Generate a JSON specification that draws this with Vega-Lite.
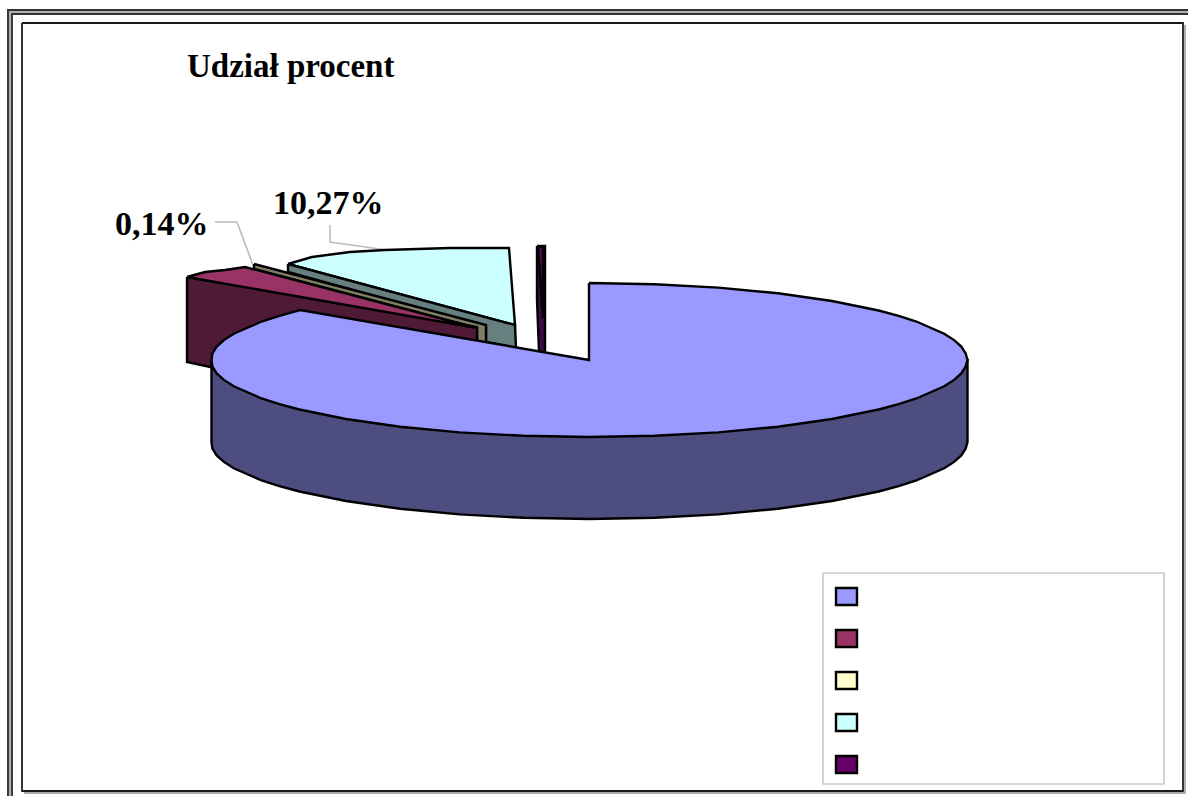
{
  "$schema": "https://vega.github.io/schema/vega-lite/v6.json",
  "width": 1188,
  "height": 796,
  "padding": 0,
  "autosize": {"type": "none"},
  "background": "#ffffff",
  "view": {"stroke": null},
  "datasets": {
    "rules": [
      {"part": "outerShadow", "i": 0, "x": 10, "y": 796}, {"part": "outerShadow", "i": 1, "x": 10, "y": 12}, {"part": "outerShadow", "i": 2, "x": 1188, "y": 12},
      {"part": "outerA", "i": 0, "x": 8, "y": 796}, {"part": "outerA", "i": 1, "x": 8, "y": 10}, {"part": "outerA", "i": 2, "x": 1188, "y": 10},
      {"part": "outerB", "i": 0, "x": 12, "y": 796}, {"part": "outerB", "i": 1, "x": 12, "y": 14}, {"part": "outerB", "i": 2, "x": 1188, "y": 14},
      {"part": "innerShadow", "i": 0, "x": 1185, "y": 25}, {"part": "innerShadow", "i": 1, "x": 1185, "y": 793}, {"part": "innerShadow", "i": 2, "x": 24, "y": 793},
      {"part": "inner", "i": 0, "x": 22, "y": 23}, {"part": "inner", "i": 1, "x": 1183, "y": 23}, {"part": "inner", "i": 2, "x": 1183, "y": 791}, {"part": "inner", "i": 3, "x": 22, "y": 791}, {"part": "inner", "i": 4, "x": 22, "y": 23},
      {"part": "legendBox", "i": 0, "x": 823, "y": 573}, {"part": "legendBox", "i": 1, "x": 1164, "y": 573}, {"part": "legendBox", "i": 2, "x": 1164, "y": 784}, {"part": "legendBox", "i": 3, "x": 823, "y": 784}, {"part": "legendBox", "i": 4, "x": 823, "y": 573},
      {"part": "leader014", "i": 0, "x": 215, "y": 222}, {"part": "leader014", "i": 1, "x": 237, "y": 222}, {"part": "leader014", "i": 2, "x": 253, "y": 265},
      {"part": "leader1027", "i": 0, "x": 330, "y": 225}, {"part": "leader1027", "i": 1, "x": 330, "y": 242}, {"part": "leader1027", "i": 2, "x": 387, "y": 250}
    ],
    "faces": [
      {"part": "cyanTop", "i": 0, "x": 288, "y": 264}, {"part": "cyanTop", "i": 1, "x": 312, "y": 257}, {"part": "cyanTop", "i": 2, "x": 350, "y": 252}, {"part": "cyanTop", "i": 3, "x": 385, "y": 250}, {"part": "cyanTop", "i": 4, "x": 450, "y": 248}, {"part": "cyanTop", "i": 5, "x": 509, "y": 248}, {"part": "cyanTop", "i": 6, "x": 515, "y": 325}, {"part": "cyanTop", "i": 7, "x": 288, "y": 264},
      {"part": "cyanSide", "i": 0, "x": 288, "y": 264}, {"part": "cyanSide", "i": 1, "x": 515, "y": 325}, {"part": "cyanSide", "i": 2, "x": 516, "y": 348}, {"part": "cyanSide", "i": 3, "x": 486, "y": 342}, {"part": "cyanSide", "i": 4, "x": 486, "y": 327}, {"part": "cyanSide", "i": 5, "x": 288, "y": 272}, {"part": "cyanSide", "i": 6, "x": 288, "y": 264},
      {"part": "creamSide", "i": 0, "x": 254, "y": 264}, {"part": "creamSide", "i": 1, "x": 486, "y": 325}, {"part": "creamSide", "i": 2, "x": 486, "y": 343}, {"part": "creamSide", "i": 3, "x": 477, "y": 341}, {"part": "creamSide", "i": 4, "x": 477, "y": 328}, {"part": "creamSide", "i": 5, "x": 254, "y": 269}, {"part": "creamSide", "i": 6, "x": 254, "y": 264},
      {"part": "redSide", "i": 0, "x": 187, "y": 277}, {"part": "redSide", "i": 1, "x": 187, "y": 362}, {"part": "redSide", "i": 2, "x": 215, "y": 368}, {"part": "redSide", "i": 3, "x": 477, "y": 341}, {"part": "redSide", "i": 4, "x": 477, "y": 327}, {"part": "redSide", "i": 5, "x": 187, "y": 277},
      {"part": "redTop", "i": 0, "x": 187, "y": 277}, {"part": "redTop", "i": 1, "x": 205, "y": 272}, {"part": "redTop", "i": 2, "x": 225, "y": 270}, {"part": "redTop", "i": 3, "x": 245, "y": 267}, {"part": "redTop", "i": 4, "x": 477, "y": 328}, {"part": "redTop", "i": 5, "x": 187, "y": 277},
      {"part": "purpleSide", "i": 0, "x": 537, "y": 246}, {"part": "purpleSide", "i": 1, "x": 545, "y": 246}, {"part": "purpleSide", "i": 2, "x": 545, "y": 352}, {"part": "purpleSide", "i": 3, "x": 539, "y": 352}, {"part": "purpleSide", "i": 4, "x": 537, "y": 300}, {"part": "purpleSide", "i": 5, "x": 537, "y": 246},
      {"part": "purpleTop", "i": 0, "x": 538, "y": 247}, {"part": "purpleTop", "i": 1, "x": 543, "y": 247}, {"part": "purpleTop", "i": 2, "x": 543, "y": 318}, {"part": "purpleTop", "i": 3, "x": 538, "y": 247},
      {"part": "blueSide", "i": 0, "x": 211.5, "y": 360}, {"part": "blueSide", "i": 1, "x": 211.5, "y": 442}, {"part": "blueSide", "i": 1.5, "x": 212.4, "y": 448.7}, {"part": "blueSide", "i": 2, "x": 216.7, "y": 455.4}, {"part": "blueSide", "i": 2.5, "x": 223.9, "y": 461.9}, {"part": "blueSide", "i": 3, "x": 233.8, "y": 468.3}, {"part": "blueSide", "i": 4, "x": 261.6, "y": 480.5}, {"part": "blueSide", "i": 4.5, "x": 279.4, "y": 486.2}, {"part": "blueSide", "i": 5, "x": 299.4, "y": 491.5}, {"part": "blueSide", "i": 6, "x": 346, "y": 501}, {"part": "blueSide", "i": 7, "x": 400, "y": 508.7}, {"part": "blueSide", "i": 8, "x": 459.7, "y": 514.4}, {"part": "blueSide", "i": 9, "x": 523.4, "y": 517.8}, {"part": "blueSide", "i": 10, "x": 589, "y": 519}, {"part": "blueSide", "i": 11, "x": 654.6, "y": 517.8}, {"part": "blueSide", "i": 12, "x": 718.3, "y": 514.4}, {"part": "blueSide", "i": 13, "x": 778, "y": 508.7}, {"part": "blueSide", "i": 14, "x": 832, "y": 501}, {"part": "blueSide", "i": 15, "x": 878.6, "y": 491.5}, {"part": "blueSide", "i": 15.5, "x": 898.6, "y": 486.2}, {"part": "blueSide", "i": 16, "x": 916.4, "y": 480.5}, {"part": "blueSide", "i": 17, "x": 944.2, "y": 468.3}, {"part": "blueSide", "i": 17.5, "x": 954.1, "y": 461.9}, {"part": "blueSide", "i": 18, "x": 961.3, "y": 455.4}, {"part": "blueSide", "i": 18.5, "x": 965.6, "y": 448.7}, {"part": "blueSide", "i": 19, "x": 967.5, "y": 442}, {"part": "blueSide", "i": 20, "x": 967.5, "y": 360}, {"part": "blueSide", "i": 21, "x": 211.5, "y": 360},
      {"part": "blueTop", "i": 0, "x": 589, "y": 283}, {"part": "blueTop", "i": 1, "x": 654.6, "y": 284.2}, {"part": "blueTop", "i": 2, "x": 718.3, "y": 287.6}, {"part": "blueTop", "i": 3, "x": 778, "y": 293.3}, {"part": "blueTop", "i": 4, "x": 832, "y": 301}, {"part": "blueTop", "i": 5, "x": 878.6, "y": 310.5}, {"part": "blueTop", "i": 5.5, "x": 898.6, "y": 315.8}, {"part": "blueTop", "i": 6, "x": 916.4, "y": 321.5}, {"part": "blueTop", "i": 7, "x": 944.2, "y": 333.7}, {"part": "blueTop", "i": 7.5, "x": 954.1, "y": 340.1}, {"part": "blueTop", "i": 8, "x": 961.3, "y": 346.6}, {"part": "blueTop", "i": 8.5, "x": 965.6, "y": 353.3}, {"part": "blueTop", "i": 9, "x": 967.5, "y": 360}, {"part": "blueTop", "i": 9.5, "x": 965.6, "y": 366.7}, {"part": "blueTop", "i": 10, "x": 961.3, "y": 373.4}, {"part": "blueTop", "i": 10.5, "x": 954.1, "y": 379.9}, {"part": "blueTop", "i": 11, "x": 944.2, "y": 386.3}, {"part": "blueTop", "i": 12, "x": 916.4, "y": 398.5}, {"part": "blueTop", "i": 12.5, "x": 898.6, "y": 404.2}, {"part": "blueTop", "i": 13, "x": 878.6, "y": 409.5}, {"part": "blueTop", "i": 14, "x": 832, "y": 419}, {"part": "blueTop", "i": 15, "x": 778, "y": 426.7}, {"part": "blueTop", "i": 16, "x": 718.3, "y": 432.4}, {"part": "blueTop", "i": 17, "x": 654.6, "y": 435.8}, {"part": "blueTop", "i": 18, "x": 589, "y": 437}, {"part": "blueTop", "i": 19, "x": 523.4, "y": 435.8}, {"part": "blueTop", "i": 20, "x": 459.7, "y": 432.4}, {"part": "blueTop", "i": 21, "x": 400, "y": 426.7}, {"part": "blueTop", "i": 22, "x": 346, "y": 419}, {"part": "blueTop", "i": 23, "x": 299.4, "y": 409.5}, {"part": "blueTop", "i": 23.5, "x": 279.4, "y": 404.2}, {"part": "blueTop", "i": 24, "x": 261.6, "y": 398.5}, {"part": "blueTop", "i": 25, "x": 233.8, "y": 386.3}, {"part": "blueTop", "i": 25.5, "x": 223.9, "y": 379.9}, {"part": "blueTop", "i": 26, "x": 216.7, "y": 373.4}, {"part": "blueTop", "i": 26.5, "x": 212.4, "y": 366.7}, {"part": "blueTop", "i": 27, "x": 211.5, "y": 360}, {"part": "blueTop", "i": 27.5, "x": 212.4, "y": 353.3}, {"part": "blueTop", "i": 28, "x": 216.7, "y": 346.6}, {"part": "blueTop", "i": 28.5, "x": 223.9, "y": 340.1}, {"part": "blueTop", "i": 29, "x": 233.8, "y": 333.7}, {"part": "blueTop", "i": 30, "x": 261.6, "y": 321.5}, {"part": "blueTop", "i": 30.5, "x": 279.4, "y": 315.8}, {"part": "blueTop", "i": 31, "x": 300, "y": 310}, {"part": "blueTop", "i": 32, "x": 589, "y": 360}, {"part": "blueTop", "i": 33, "x": 589, "y": 283}
    ],
    "series": [
      {"name": "A", "share": 84.39},
      {"name": "B", "share": 5.0},
      {"name": "C", "share": 0.14},
      {"name": "D", "share": 10.27},
      {"name": "E", "share": 0.2}
    ],
    "titles": [
      {"text": "Udział procent", "x": 187, "y": 77}
    ],
    "labels": [
      {"text": "0,14%", "x": 115, "y": 235},
      {"text": "10,27%", "x": 273, "y": 214}
    ]
  },
  "resolve": {"scale": {"y": "independent", "x": "shared", "fill": "independent", "stroke": "independent"}},
  "layer": [
    {
      "data": {"name": "rules"},
      "mark": {"type": "line", "interpolate": "linear", "clip": false},
      "encoding": {
        "x": {"field": "x", "type": "quantitative", "axis": null, "scale": {"domain": [0, 1188], "nice": false, "zero": false}},
        "y": {"field": "y", "type": "quantitative", "axis": null, "scale": {"domain": [796, 0], "nice": false, "zero": false}},
        "order": {"field": "i"},
        "detail": {"field": "part"},
        "stroke": {
          "field": "part",
          "legend": null,
          "scale": {
            "domain": ["outerShadow", "outerA", "outerB", "innerShadow", "inner", "legendBox", "leader014", "leader1027"],
            "range": ["#b0b0b0", "#333333", "#333333", "#aaaaaa", "#1a1a1a", "#cccccc", "#bdbdbd", "#bdbdbd"]
          }
        },
        "strokeWidth": {
          "field": "part",
          "legend": null,
          "scale": {
            "domain": ["outerShadow", "outerA", "outerB", "innerShadow", "inner", "legendBox", "leader014", "leader1027"],
            "range": [2, 1.6, 1.6, 2, 2.4, 1.2, 1, 1]
          }
        }
      }
    },
    {
      "data": {"name": "faces"},
      "mark": {"type": "line", "filled": false, "stroke": "#000000", "strokeWidth": 2.4, "strokeJoin": "miter", "interpolate": "linear"},
      "encoding": {
        "x": {"field": "x", "type": "quantitative", "axis": null, "scale": {"domain": [0, 1188], "nice": false, "zero": false}},
        "y": {"field": "y", "type": "quantitative", "axis": null, "scale": {"domain": [796, 0], "nice": false, "zero": false}},
        "order": {"field": "i"},
        "detail": {"field": "part"},
        "fill": {
          "field": "part",
          "legend": null,
          "scale": {
            "domain": ["cyanTop", "cyanSide", "creamSide", "redSide", "redTop", "purpleSide", "purpleTop", "blueSide", "blueTop"],
            "range": ["#ccffff", "#668080", "#807f66", "#4f1a35", "#993366", "#3d0a45", "#660066", "#4d4d80", "#9999ff"]
          }
        }
      }
    },
    {
      "data": {"name": "series"},
      "mark": {"type": "rect", "stroke": "#000000", "strokeWidth": 2.4},
      "encoding": {
        "x": {"datum": 836, "type": "quantitative", "scale": {"domain": [0, 1188], "nice": false, "zero": false}, "axis": null},
        "x2": {"datum": 857},
        "y": {
          "field": "name",
          "type": "nominal",
          "axis": null,
          "scale": {"type": "band", "domain": ["A", "B", "C", "D", "E"], "range": [588, 773], "paddingInner": 0.595, "paddingOuter": 0}
        },
        "fill": {
          "field": "name",
          "legend": null,
          "scale": {"domain": ["A", "B", "C", "D", "E"], "range": ["#9999ff", "#993366", "#ffffcc", "#ccffff", "#660066"]}
        }
      }
    },
    {
      "data": {"name": "titles"},
      "mark": {"type": "text", "font": "Liberation Serif", "fontWeight": "bold", "fontSize": 33, "align": "left", "baseline": "alphabetic", "color": "#000000"},
      "encoding": {
        "x": {"field": "x", "type": "quantitative", "axis": null, "scale": {"domain": [0, 1188], "nice": false, "zero": false}},
        "y": {"field": "y", "type": "quantitative", "axis": null, "scale": {"domain": [796, 0], "nice": false, "zero": false}},
        "text": {"field": "text"}
      }
    },
    {
      "data": {"name": "labels"},
      "mark": {"type": "text", "font": "Liberation Serif", "fontWeight": "bold", "fontSize": 34, "align": "left", "baseline": "alphabetic", "color": "#000000"},
      "encoding": {
        "x": {"field": "x", "type": "quantitative", "axis": null, "scale": {"domain": [0, 1188], "nice": false, "zero": false}},
        "y": {"field": "y", "type": "quantitative", "axis": null, "scale": {"domain": [796, 0], "nice": false, "zero": false}},
        "text": {"field": "text"}
      }
    }
  ]
}
